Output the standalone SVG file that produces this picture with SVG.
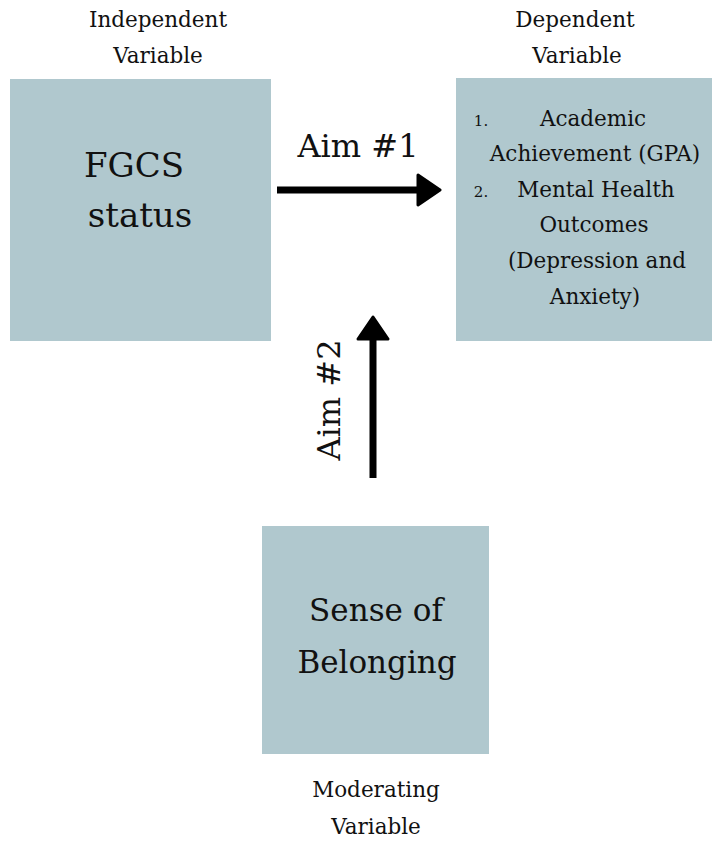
<svg xmlns="http://www.w3.org/2000/svg" width="712" height="842" viewBox="0 0 712 842">
<defs>
<style>
.box{fill:#b0c8ce}
.t{font-family:"DejaVu Serif","Liberation Serif",serif;fill:#111;text-anchor:middle}
.s{font-size:21.5px}
.n{font-size:15px}
.l{font-size:31px}
.c{stroke:#000;stroke-width:7;fill:none;stroke-linecap:butt}
</style>
<marker id="ah" viewBox="-2 -2 28 34" refX="2" refY="15" markerWidth="28" markerHeight="34" orient="auto" markerUnits="userSpaceOnUse">
<path d="M0,0 L22,15 L0,30 Z" fill="#000" stroke="#000" stroke-width="3" stroke-linejoin="round"/>
</marker>
</defs>
<rect width="712" height="842" fill="#fff"/>
<g id="iv">
<rect class="box" x="10" y="79" width="261" height="262"/>
<text class="t s" x="158" y="27">Independent</text>
<text class="t s" x="158" y="63">Variable</text>
<text class="t l" style="font-size:34px" x="134" y="177">FGCS</text>
<text class="t l" style="font-size:34px" x="140" y="227">status</text>
</g>
<g id="dv">
<rect class="box" x="456" y="78" width="256" height="263"/>
<text class="t s" x="575" y="27">Dependent</text>
<text class="t s" x="577" y="63">Variable</text>
<text class="t n" x="481" y="126">1.</text>
<text class="t s" x="593" y="126">Academic</text>
<text class="t s" x="595" y="161">Achievement (GPA)</text>
<text class="t n" x="481" y="197">2.</text>
<text class="t s" x="596" y="197">Mental Health</text>
<text class="t s" x="594" y="232">Outcomes</text>
<text class="t s" x="597" y="268">(Depression and</text>
<text class="t s" x="595" y="304">Anxiety)</text>
</g>
<g id="mv">
<rect class="box" x="262" y="526" width="227" height="228"/>
<text class="t l" x="376" y="621">Sense of</text>
<text class="t l" x="377" y="673">Belonging</text>
<text class="t s" x="376" y="797">Moderating</text>
<text class="t s" x="376" y="834">Variable</text>
</g>
<g id="connectors">
<line class="c" x1="277" y1="190" x2="420" y2="190" marker-end="url(#ah)"/>
<line class="c" x1="373" y1="478" x2="373" y2="337" marker-end="url(#ah)"/>
<text class="t l" style="font-size:32px" x="358" y="157">Aim #1</text>
<text class="t l" style="font-size:32px" transform="translate(340,400) rotate(-90)" x="0" y="0">Aim #2</text>
</g>
</svg>
